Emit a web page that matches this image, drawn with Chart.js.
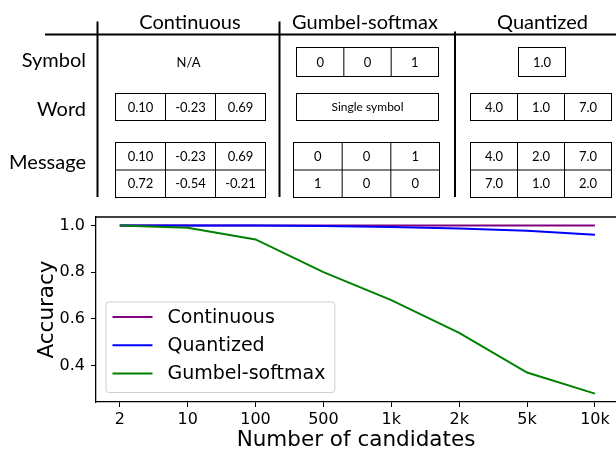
<!DOCTYPE html>
<html>
<head>
<meta charset="utf-8">
<script src="https://cdn.jsdelivr.net/npm/chart.js@4.4.1/dist/chart.umd.min.js"></script>
<style>
  html, body { margin: 0; padding: 0; background: #fff; overflow: hidden; }
  #wrap { position: relative; width: 616px; height: 450px; }
  #plot { position: absolute; left: 0; top: 0; }
  #scheme { position: absolute; left: 0; top: 0; }
  #scheme text { font-family: Lato, 'Open Sans', sans-serif; fill: #000; }
</style>
</head>
<body>
<div id="wrap">
  <canvas id="plot" width="616" height="450"></canvas>
  <svg id="scheme" width="616" height="200" xmlns="http://www.w3.org/2000/svg"></svg>
</div>
<script>
'use strict';

// ---- chart data ----
const candidates = ['2', '10', '100', '500', '1k', '2k', '5k', '10k'];
const continuousAcc = [1.0, 1.0, 1.0, 1.0, 1.0, 1.0, 1.0, 1.0];
const quantizedAcc = [1.0, 1.0, 1.0, 0.998, 0.993, 0.987, 0.977, 0.96];
const gumbelAcc = [1.0, 0.99, 0.94, 0.80, 0.68, 0.54, 0.37, 0.28];
const yTicks = [0.4, 0.6, 0.8, 1.0];

// ---- scheme (table above the chart) ----
const schemeCols = ['Continuous', 'Gumbel-softmax', 'Quantized'];
const schemeRows = ['Symbol', 'Word', 'Message'];
const contSymbol = 'N/A';
const contWord = [['0.10', '-0.23', '0.69']];
const contMessage = [['0.10', '-0.23', '0.69'], ['0.72', '-0.54', '-0.21']];
const gumbelSymbol = [['0', '0', '1']];
const gumbelWord = [['Single symbol']];
const gumbelMessage = [['0', '0', '1'], ['1', '0', '0']];
const quantSymbol = [['1.0']];
const quantWord = [['4.0', '1.0', '7.0']];
const quantMessage = [['4.0', '2.0', '7.0'], ['7.0', '1.0', '2.0']];

const svg = document.getElementById('scheme');
const svgNS = 'http://www.w3.org/2000/svg';

function el(tag, attrs, text) {
    const node = document.createElementNS(svgNS, tag);
    for (let k in attrs) node.setAttribute(k, attrs[k]);
    if (text !== undefined) node.textContent = text;
    svg.appendChild(node);
    return node;
}

function line(x1, y1, x2, y2, w) {
    el('line', { x1, y1, x2, y2, stroke: '#000', 'stroke-width': w });
}

// cells laid out evenly inside a box
function grid(x0, y0, x1, y1, cells, size) {
    const nr = cells.length, nc = cells[0].length;
    const cw = (x1 - x0) / nc, ch = (y1 - y0) / nr;
    el('rect', { x: x0, y: y0, width: x1 - x0, height: y1 - y0, fill: 'none', stroke: '#000', 'stroke-width': 1 });
    for (let c = 1; c < nc; c++) line(x0 + c * cw, y0, x0 + c * cw, y1, 1);
    for (let r = 1; r < nr; r++) line(x0, y0 + r * ch, x1, y0 + r * ch, 1);
    cells.forEach((row, r) => row.forEach((txt, c) => {
        el('text', {
            x: x0 + (c + 0.5) * cw, y: y0 + (r + 0.5) * ch + size * 0.36,
            'text-anchor': 'middle', 'font-size': size
        }, txt);
    }));
}

// frame lines
line(45, 34.5, 616, 34.5, 2);
line(97.5, 21.5, 97.5, 197, 2);
line(279.5, 21.5, 279.5, 197, 2);
line(455, 31.5, 455, 197, 2);

const headerX = [190, 365, 542.5];
schemeCols.forEach((t, i) => el('text', { x: headerX[i], y: 29, 'text-anchor': 'middle', 'font-size': 20 }, t));
const rowBase = [66.5, 115.5, 168.5];
schemeRows.forEach((t, i) => el('text', { x: 86, y: rowBase[i], 'text-anchor': 'end', 'font-size': 20 }, t));

el('text', { x: 188.5, y: 66.5, 'text-anchor': 'middle', 'font-size': 13 }, contSymbol);
grid(115.5, 93.5, 265.5, 120.5, contWord, 13);
grid(115.5, 142.5, 265.5, 197.5, contMessage, 13);
grid(296.5, 47.5, 438.5, 76.5, gumbelSymbol, 13);
grid(296.5, 93.5, 438.5, 120.5, gumbelWord, 12);
grid(293.5, 142.5, 439.5, 197.5, gumbelMessage, 13);
grid(518.5, 47.5, 565.5, 76.5, quantSymbol, 13);
grid(470.5, 93.5, 611.5, 120.5, quantWord, 13);
grid(470.5, 142.5, 611.5, 197.5, quantMessage, 13);

// ---- chart ----
Chart.defaults.font.family = "'DejaVu Sans', sans-serif";
Chart.defaults.color = '#000';

const series = [
    { label: 'Continuous', data: continuousAcc, color: '#800080' },
    { label: 'Quantized', data: quantizedAcc, color: '#0000ff' },
    { label: 'Gumbel-softmax', data: gumbelAcc, color: '#008000' },
];

// matplotlib-like legend box in the lower left of the plot
const legendBox = {
    id: 'legendBox',
    afterDraw(chart) {
        const { ctx, chartArea } = chart;
        const fontSize = 19;
        ctx.save();
        ctx.font = `${fontSize}px 'DejaVu Sans'`;
        const textW = Math.max(...series.map(s => ctx.measureText(s.label).width));
        const rowH = 28.3;
        const x0 = chartArea.left + 9.5;
        const w = 7 + 40 + 15 + textW + 9;
        const h = 15.5 + rowH * (series.length - 1) + 18.5;
        const y0 = chartArea.bottom - 10 - h;
        ctx.beginPath();
        ctx.roundRect(x0 + 0.5, y0 + 0.5, w, h, 3);
        ctx.fillStyle = 'rgba(255,255,255,0.8)';
        ctx.fill();
        ctx.strokeStyle = '#d0d0d0';
        ctx.lineWidth = 1;
        ctx.stroke();
        series.forEach((s, i) => {
            const y = y0 + 15.5 + i * rowH;
            ctx.beginPath();
            ctx.moveTo(x0 + 7, y);
            ctx.lineTo(x0 + 47, y);
            ctx.strokeStyle = s.color;
            ctx.lineWidth = 2;
            ctx.stroke();
            ctx.fillStyle = '#000';
            ctx.textBaseline = 'middle';
            ctx.fillText(s.label, x0 + 62, y + 1);
        });
        ctx.restore();
    }
};

// top spine
const topSpine = {
    id: 'topSpine',
    afterDraw(chart) {
        const { ctx, chartArea } = chart;
        ctx.save();
        ctx.strokeStyle = '#000';
        ctx.lineWidth = 1.3;
        ctx.beginPath();
        ctx.moveTo(chartArea.left, chartArea.top);
        ctx.lineTo(chartArea.right, chartArea.top);
        ctx.stroke();
        ctx.restore();
    }
};

const ctx = document.getElementById('plot').getContext('2d');
const chart = new Chart(ctx, {
    type: 'line',
    data: {
        datasets: series.map((s, i) => ({
            label: s.label,
            data: s.data.map((v, j) => ({ x: j, y: v })),
            borderColor: s.color,
            backgroundColor: s.color,
            borderWidth: 2,
            pointRadius: 0,
            tension: 0,
            order: series.length - i,
        })),
    },
    options: {
        responsive: false,
        devicePixelRatio: 1,
        animation: false,
        layout: { padding: { top: 217, left: 0, right: 0, bottom: 0 } },
        plugins: { legend: { display: false }, tooltip: { enabled: false } },
        scales: {
            x: {
                type: 'linear',
                min: -0.35,
                max: 7.31,
                afterBuildTicks: (scale) => { scale.ticks = candidates.map((_, i) => ({ value: i })); },
                afterFit: (scale) => { scale.height = 48; },
                ticks: {
                    autoSkip: false,
                    maxRotation: 0,
                    padding: 3,
                    font: { size: 16 },
                    callback: (v) => candidates[v],
                },
                grid: { drawOnChartArea: false, drawTicks: true, tickLength: 5, color: '#000', tickWidth: 1 },
                border: { display: true, color: '#000', width: 1.3 },
                title: {
                    display: true,
                    text: 'Number of candidates',
                    font: { size: 21.5, lineHeight: 0.85 },
                    padding: { top: 0, bottom: 0 },
                },
            },
            y: {
                min: 0.244,
                max: 1.036,
                afterBuildTicks: (scale) => { scale.ticks = yTicks.map(v => ({ value: v })); },
                afterFit: (scale) => { scale.width = 96; },
                ticks: {
                    padding: 6,
                    font: { size: 16 },
                    callback: (v) => v.toFixed(1),
                },
                grid: { drawOnChartArea: false, drawTicks: true, tickLength: 5, color: '#000', tickWidth: 1 },
                border: { display: true, color: '#000', width: 1.3 },
                title: {
                    display: true,
                    text: 'Accuracy',
                    font: { size: 21.5, lineHeight: 1 },
                    padding: { top: 37, bottom: 0 },
                },
            },
        },
    },
    plugins: [legendBox, topSpine],
});
</script>
</body>
</html>
